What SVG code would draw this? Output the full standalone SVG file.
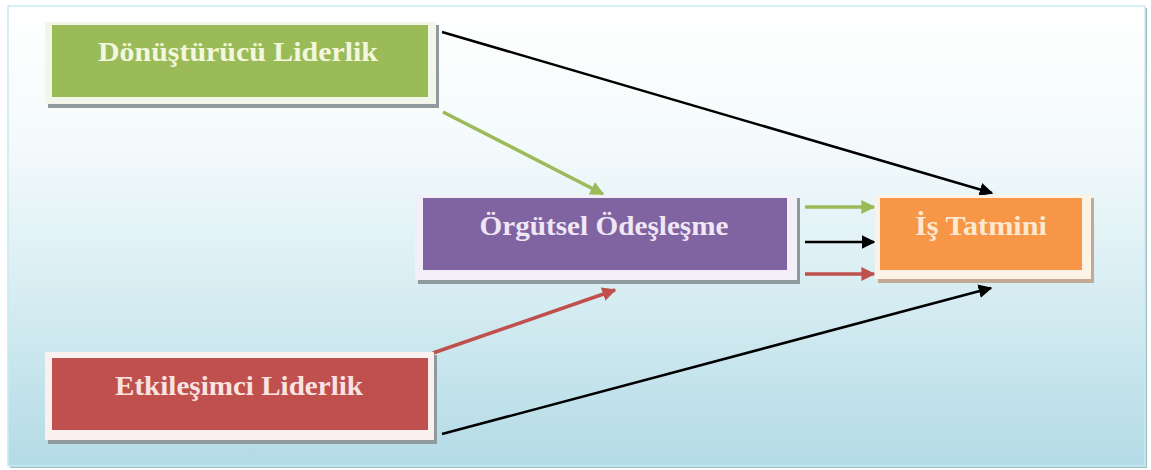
<svg xmlns="http://www.w3.org/2000/svg" width="1151" height="470" viewBox="0 0 1151 470">
  <defs>
    <linearGradient id="bg" x1="0" y1="0" x2="0" y2="1">
      <stop offset="0" stop-color="#ffffff"/>
      <stop offset="0.3" stop-color="#f4fafb"/>
      <stop offset="0.6" stop-color="#d9eef3"/>
      <stop offset="1" stop-color="#b3dbe6"/>
    </linearGradient>
    <marker id="ah-black" viewBox="0 0 10 10" refX="9" refY="5" markerWidth="5.5" markerHeight="5.5" orient="auto" markerUnits="strokeWidth">
      <path d="M0,0 L10,5 L0,10 z" fill="#000000"/>
    </marker>
    <marker id="ah-green" viewBox="0 0 10 10" refX="9" refY="5" markerWidth="4" markerHeight="4" orient="auto" markerUnits="strokeWidth">
      <path d="M0,0 L10,5 L0,10 z" fill="#9bbb59"/>
    </marker>
    <marker id="ah-red" viewBox="0 0 10 10" refX="9" refY="5" markerWidth="4" markerHeight="4" orient="auto" markerUnits="strokeWidth">
      <path d="M0,0 L10,5 L0,10 z" fill="#c0504d"/>
    </marker>
  </defs>
  <style>
    .label { font-family: "Liberation Serif", "Times New Roman", serif; font-weight: bold; font-size: 27px; text-anchor: middle; }
    .shadow { fill: #8e9a9e; }
    .conn-black { stroke: #000000; stroke-width: 2.5; fill: none; marker-end: url(#ah-black); }
    .conn-green { stroke: #9bbb59; stroke-width: 3.5; fill: none; marker-end: url(#ah-green); }
    .conn-red { stroke: #c0504d; stroke-width: 3.5; fill: none; marker-end: url(#ah-red); }
  </style>

  <!-- background panel -->
  <rect x="10" y="8" width="1137" height="460" fill="#a5bcc2"/>
  <rect x="8" y="6" width="1137" height="460" fill="url(#bg)" stroke="#c8ecf2" stroke-width="1.5"/>

  <!-- connectors -->
  <g id="connectors">
    <line class="conn-black" x1="442" y1="32" x2="992" y2="193"/>
    <line class="conn-green" x1="443" y1="112" x2="603" y2="194"/>
    <line class="conn-green" x1="805" y1="207" x2="874" y2="207"/>
    <line class="conn-black" x1="805" y1="242" x2="874" y2="242"/>
    <line class="conn-red" x1="805" y1="274" x2="874" y2="274"/>
    <line class="conn-red" x1="433" y1="353" x2="615" y2="290"/>
    <line class="conn-black" x1="442" y1="434" x2="991" y2="288"/>
  </g>

  <!-- transformational leadership -->
  <g id="donusturucu">
    <rect class="shadow" x="48" y="25" width="391" height="83"/>
    <rect x="45" y="22" width="391" height="82" fill="#f3f7ea"/>
    <rect x="52" y="25" width="376" height="72" fill="#9bbb59"/>
    <text class="label" x="238" y="61" fill="#f2f7dd" textLength="280" lengthAdjust="spacingAndGlyphs">Dönüştürücü Liderlik</text>
  </g>

  <!-- organizational identification -->
  <g id="orgutsel">
    <rect class="shadow" x="418" y="198" width="382" height="86"/>
    <rect x="415" y="195" width="382" height="85" fill="#f3eff8"/>
    <rect x="423" y="198" width="364" height="72" fill="#8064a2"/>
    <text class="label" x="604" y="235" fill="#efe6f6" textLength="249" lengthAdjust="spacingAndGlyphs">Örgütsel Ödeşleşme</text>
  </g>

  <!-- job satisfaction -->
  <g id="is-tatmini">
    <rect x="878" y="198" width="216" height="85" fill="#c2a993"/>
    <rect x="875" y="195" width="216" height="84" fill="#fdf2e6"/>
    <rect x="880" y="198" width="202" height="72" fill="#f79646"/>
    <text class="label" x="981" y="235" fill="#fde8d0" textLength="132" lengthAdjust="spacingAndGlyphs">İş Tatmini</text>
  </g>

  <!-- transactional leadership -->
  <g id="etkilesimci">
    <rect class="shadow" x="48" y="355" width="389" height="89"/>
    <rect x="45" y="352" width="389" height="88" fill="#fbf0f0"/>
    <rect x="52" y="358" width="376" height="72" fill="#c0504d"/>
    <text class="label" x="239" y="395" fill="#f9e3e1" textLength="248" lengthAdjust="spacingAndGlyphs">Etkileşimci Liderlik</text>
  </g>
</svg>
